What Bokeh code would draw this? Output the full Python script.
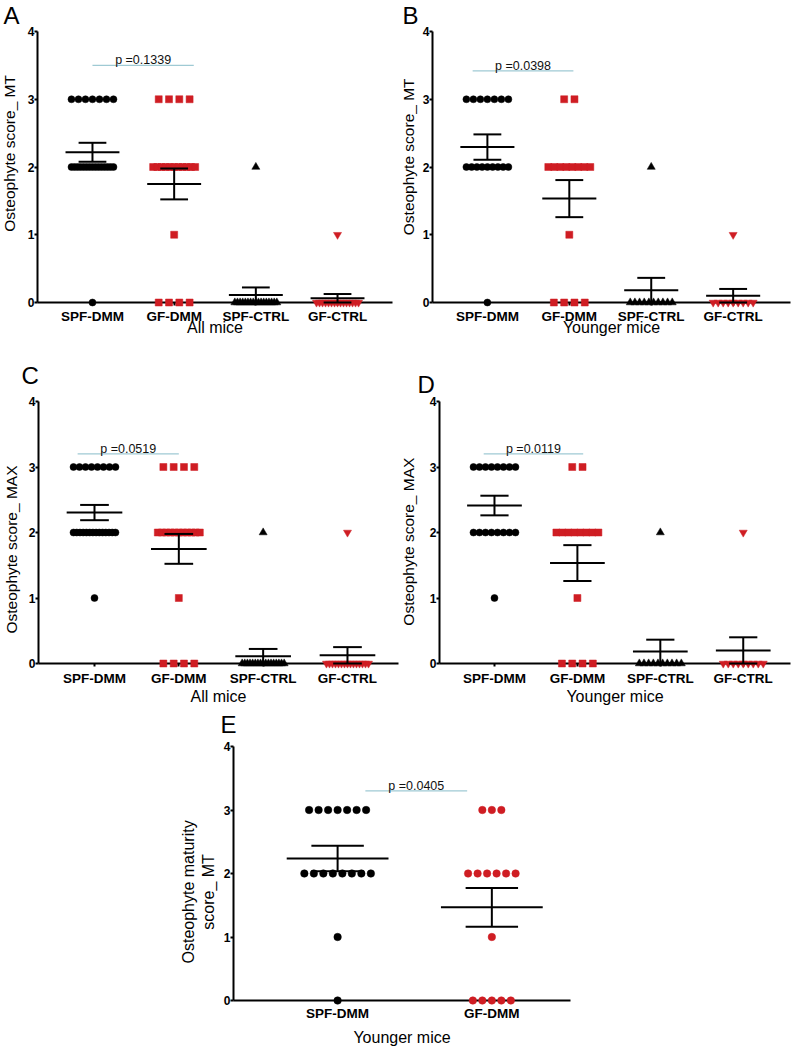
import numpy as np
from bokeh.plotting import figure
from bokeh.models import Range1d, FixedTicker, Spacer, ColumnDataSource
from bokeh.layouts import column, row
from bokeh.embed import file_html
from bokeh.resources import INLINE
from bokeh.core.properties import value

# ---------------- data ----------------
groups4 = ["SPF-DMM", "GF-DMM", "SPF-CTRL", "GF-CTRL"]
groups2 = ["SPF-DMM", "GF-DMM"]
y_ticks = [0, 1, 2, 3, 4]

# A: all mice, score MT
a_spf_dmm = [3, 3, 3, 3, 3, 3, 3, 2, 2, 2, 2, 2, 2, 2, 2, 2, 2, 2, 2, 2, 2, 2, 0]
a_gf_dmm = [3, 3, 3, 3, 2, 2, 2, 2, 2, 2, 2, 2, 2, 2, 2, 1, 0, 0, 0, 0]
a_spf_ctrl = [2, 0, 0, 0, 0, 0, 0, 0, 0, 0, 0, 0, 0, 0, 0, 0, 0, 0]
a_gf_ctrl = [1, 0, 0, 0, 0, 0, 0, 0, 0, 0, 0, 0, 0, 0, 0, 0]

# B: younger mice, score MT
b_spf_dmm = [3, 3, 3, 3, 3, 3, 3, 2, 2, 2, 2, 2, 2, 2, 2, 2, 0]
b_gf_dmm = [3, 3, 2, 2, 2, 2, 2, 2, 2, 2, 1, 0, 0, 0, 0]
b_spf_ctrl = [2, 0, 0, 0, 0, 0, 0, 0, 0, 0, 0]
b_gf_ctrl = [1, 0, 0, 0, 0, 0, 0, 0, 0, 0]

# C: all mice, score MAX
c_spf_dmm = [3, 3, 3, 3, 3, 3, 3, 3, 2, 2, 2, 2, 2, 2, 2, 2, 2, 2, 2, 2, 2, 2, 1]
c_gf_dmm = [3, 3, 3, 3, 2, 2, 2, 2, 2, 2, 2, 2, 2, 2, 2, 1, 0, 0, 0, 0]
c_spf_ctrl = [2, 0, 0, 0, 0, 0, 0, 0, 0, 0, 0, 0, 0, 0, 0, 0, 0, 0]
c_gf_ctrl = [2, 0, 0, 0, 0, 0, 0, 0, 0, 0, 0, 0, 0, 0, 0, 0]

# D: younger mice, score MAX
d_spf_dmm = [3, 3, 3, 3, 3, 3, 3, 3, 2, 2, 2, 2, 2, 2, 2, 2, 1]
d_gf_dmm = [3, 3, 2, 2, 2, 2, 2, 2, 2, 2, 1, 0, 0, 0, 0]
d_spf_ctrl = [2, 0, 0, 0, 0, 0, 0, 0, 0, 0, 0]
d_gf_ctrl = [2, 0, 0, 0, 0, 0, 0, 0, 0, 0]

# E: younger mice, maturity score MT
e_spf_dmm = [3, 3, 3, 3, 3, 3, 3, 2, 2, 2, 2, 2, 2, 2, 2, 1, 0]
e_gf_dmm = [3, 3, 3, 2, 2, 2, 2, 2, 2, 1, 0, 0, 0, 0, 0]

p_values = ["p =0.1339", "p =0.0398", "p =0.0519", "p =0.0119", "p =0.0405"]
y_titles = ["Osteophyte score_ MT", "Osteophyte score_ MT",
            "Osteophyte score_ MAX", "Osteophyte score_ MAX",
            "Osteophyte maturity\nscore_ MT"]
x_titles = ["All mice", "Younger mice", "All mice", "Younger mice", "Younger mice"]
letters = ["A", "B", "C", "D", "E"]

# ---------------- style ----------------
FONT = "Liberation Sans"
BLACK = "#000000"
RED = "#cf1d23"
PLINE = "#9fcad4"

markers4 = [("circle", BLACK, 7, 7.0), ("square", RED, 7, 10.3),
            ("triangle", BLACK, 8, 5.0), ("inverted_triangle", RED, 8, 5.0)]
markers2 = [("circle", BLACK, 7.5, 9.5), ("circle", RED, 7.5, 9.5)]


def spread(vals, center, ppu, nat_px, max_px):
    out = [0.0] * len(vals)
    for v in sorted(set(vals)):
        idx = [i for i, u in enumerate(vals) if u == v]
        k = len(idx)
        sp = nat_px if k < 2 else min(nat_px, max_px / (k - 1))
        for j, i in enumerate(idx):
            out[i] = center + (j - (k - 1) / 2) * sp / ppu
    return out


def panel(data, names, markers, k, W, H, L, R, T, B, xr,
          xtick_standoff, xlab_standoff, max_px, pline, letter_off, ylab_pos, ylab_size):
    p = figure(width=W, height=H, x_range=Range1d(*xr), y_range=Range1d(0, 4),
               output_backend="svg", toolbar_location=None,
               min_border_left=L, min_border_right=R, min_border_top=T, min_border_bottom=B)
    p.outline_line_color = None
    p.grid.visible = False
    frame_w = W - L - R
    ppu = frame_w / (xr[1] - xr[0])

    # axes
    p.xaxis.ticker = FixedTicker(ticks=list(range(1, len(names) + 1)))
    p.xaxis.major_label_overrides = {i + 1: n for i, n in enumerate(names)}
    p.yaxis.ticker = FixedTicker(ticks=y_ticks)
    for ax in (p.xaxis[0], p.yaxis[0]):
        ax.axis_line_width = 2
        ax.axis_line_color = BLACK
        ax.major_tick_line_width = 2
        ax.major_tick_line_color = BLACK
        ax.minor_tick_line_color = None
        ax.major_tick_in = 0
        ax.major_label_text_font = FONT
        ax.major_label_text_font_style = "bold"
        ax.major_label_text_color = BLACK
        ax.axis_label_text_font = FONT
        ax.axis_label_text_font_style = "normal"
        ax.axis_label_text_color = BLACK
    p.yaxis.major_tick_out = 3
    p.xaxis.major_tick_out = 3
    p.yaxis.major_label_text_font_size = "12px"
    p.xaxis.major_label_text_font_size = "13.5px"
    p.yaxis.major_label_standoff = 0
    p.xaxis.major_label_standoff = xtick_standoff
    p.xaxis.axis_label = x_titles[k]
    p.xaxis.axis_label_text_font_size = "16px"
    p.xaxis.axis_label_standoff = xlab_standoff

    # y-axis title, placed relative to the left edge of the plot frame
    p.text(x=[xr[0]], y=[ylab_pos[1]], text=[y_titles[k]], angle=np.pi / 2,
           x_offset=ylab_pos[0], text_align="center", text_baseline="middle",
           text_font=value(FONT), text_font_size=ylab_size, text_color=BLACK,
           level="overlay")

    # points
    for gi, (vals, (mk, col, size, nat)) in enumerate(zip(data, markers)):
        c = gi + 1
        xs = spread(vals, c, ppu, nat, max_px)
        src = ColumnDataSource(dict(x=xs, y=vals))
        p.scatter("x", "y", source=src, marker=mk, size=size, fill_color=col,
                  line_color=col, line_width=0.5, level="overlay")

    # mean +/- SEM
    x0, x1, y0, y1 = [], [], [], []
    for gi, vals in enumerate(data):
        c = gi + 1
        arr = np.array(vals, dtype=float)
        m = arr.mean()
        s = arr.std(ddof=1) / np.sqrt(len(arr))
        x0 += [c - 0.33, c - 0.17, c - 0.17, c]
        x1 += [c + 0.33, c + 0.17, c + 0.17, c]
        y0 += [m, m + s, m - s, m - s]
        y1 += [m, m + s, m - s, m + s]
    p.segment(x0=x0, x1=x1, y0=y0, y1=y1, line_color=BLACK, line_width=2, level="overlay")

    # p-value bracket
    px0, px1, py = pline
    p.segment(x0=[px0], x1=[px1], y0=[py], y1=[py], line_color=PLINE, line_width=1.3)
    p.text(x=[(px0 + px1) / 2], y=[py], text=[p_values[k]], text_align="center",
           text_baseline="bottom", y_offset=2, text_font=value(FONT),
           text_font_size="12.5px", text_color="#111111")

    # panel letter (screen offsets from the top-left corner of the plot frame)
    p.text(x=[xr[0]], y=[4], text=[letters[k]], x_offset=letter_off[0],
           y_offset=letter_off[1], text_align="left", text_baseline="alphabetic",
           text_font=value(FONT), text_font_size="24px", text_color=BLACK,
           level="overlay")
    return p


pA = panel([a_spf_dmm, a_gf_dmm, a_spf_ctrl, a_gf_ctrl], groups4, markers4, 0,
           400, 340, 37, 8, 31, 38, (0.327, 4.673), 3, -8, 42,
           (1.0, 2.24, 3.5), (-34, -16), (-28, 2.2), "15.5px")
pB = panel([b_spf_dmm, b_gf_dmm, b_spf_ctrl, b_gf_ctrl], groups4, markers4, 1,
           400, 340, 32, 10, 31, 38, (0.33, 4.70), 3, -8, 42,
           (0.82, 2.05, 3.42), (-30, -16), (-24, 2.15), "15.5px")
pC = panel([c_spf_dmm, c_gf_dmm, c_spf_ctrl, c_gf_ctrl], groups4, markers4, 2,
           400, 367, 38, 2, 61, 44, (0.336, 4.605), 4, -1, 42,
           (0.8, 2.0, 3.2), (-17, -26), (-27.5, 1.74), "15.5px")
pD = panel([d_spf_dmm, d_gf_dmm, d_spf_ctrl, d_gf_ctrl], groups4, markers4, 3,
           400, 367, 39, 10, 61, 44, (0.337, 4.57), 4, -1, 42,
           (0.87, 2.07, 3.2), (-22, -17), (-31.5, 1.86), "15.5px")
pE = panel([e_spf_dmm, e_gf_dmm], groups2, markers2, 4,
           432, 341, 65, 30, 39, 48, (0.325, 2.51), 2, 5, 80,
           (1.18, 1.84, 3.3), (-13, -22), (-35, 1.71), "16px")

layout = column(row(pA, pB), row(pC, pD), row(Spacer(width=168, height=341), pE))
open("out.html", "w").write(file_html(layout, INLINE))
